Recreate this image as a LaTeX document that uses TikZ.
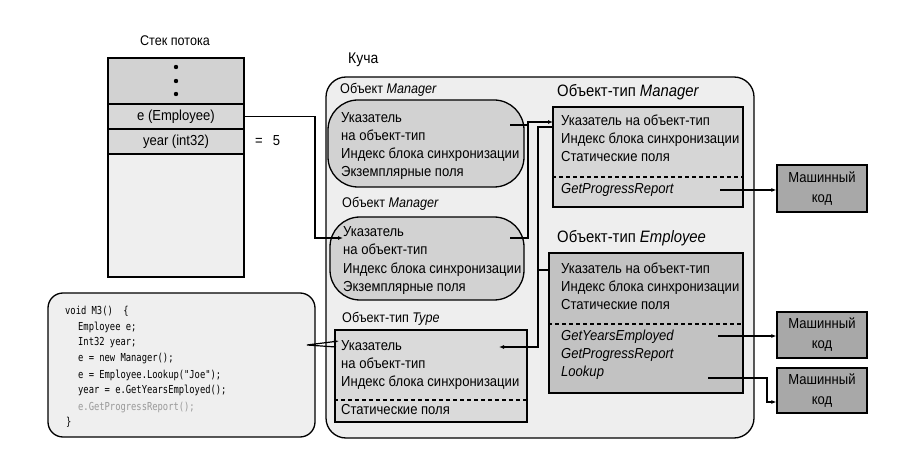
\documentclass[tikz,border=0pt]{standalone}
\usepackage{fontspec}
\setmainfont{Liberation Sans}[FakeStretch=0.9]
\newfontfamily\codefont{DejaVu Sans Mono}[FakeStretch=0.8]
\usetikzlibrary{arrows.meta}
\definecolor{heapc}{HTML}{EEEEEE}
\definecolor{stk1}{HTML}{D2D2D2}
\definecolor{stk2}{HTML}{D8D8D8}
\definecolor{stk3}{HTML}{EFEFEF}
\definecolor{objc}{HTML}{D2D2D2}
\definecolor{mtc}{HTML}{D6D6D6}
\definecolor{etc}{HTML}{C2C2C2}
\definecolor{tyc}{HTML}{DADADA}
\definecolor{mcc}{HTML}{A8A8A8}
\definecolor{codec}{HTML}{EFEFEF}
\definecolor{dimc}{HTML}{999999}
\begin{document}
\begin{tikzpicture}[x=1pt,y=-1pt,
  bx/.style={draw, line width=1.3pt, inner sep=0pt},
  tl/.style={anchor=west, inner sep=0pt, text height=10pt, text depth=3pt, font=\fontsize{14.5}{17}\selectfont},
  lbl/.style={anchor=west, inner sep=0pt, text height=9.5pt, text depth=3pt, font=\fontsize{14}{16}\selectfont},
  big/.style={anchor=west, inner sep=0pt, text height=11pt, text depth=3pt, font=\fontsize{16.5}{19}\selectfont},
  cl/.style={anchor=west, inner sep=0pt, text height=8pt, text depth=2pt, font=\codefont\fontsize{11}{13}\selectfont},
  con/.style={line width=1.2pt},
  arr/.style={con, -{Latex[length=5pt,width=4pt]}},
  dsh/.style={line width=1.1pt, dash pattern=on 4pt off 3pt},
  mc/.style={bx, fill=mcc, minimum width=90pt, align=center, font=\fontsize{14.5}{20}\selectfont}
]
\useasboundingbox (0,0) rectangle (906,449);

% heap
\node[bx, fill=heapc, rounded corners=20pt, minimum width=428pt, minimum height=361pt] (heap) at (540,257.5) {};
\node[big, font=\fontsize{15.5}{18}\selectfont] (heaplbl) at (348,60) {Куча};

% stack
\node[lbl, anchor=center] (stacklbl) at (175,42) {Стек потока};
\node[bx, fill=stk1, minimum width=136pt, minimum height=46pt] (stop) at (176,81) {};
\foreach \yy in {67,81,94} \fill (176,\yy) circle (2.2pt);
\node[bx, fill=stk2, minimum width=136pt, minimum height=25pt, font=\fontsize{14.5}{17}\selectfont] (rowe) at (176,116.5) {e (Employee)};
\node[bx, fill=stk2, minimum width=136pt, minimum height=25pt, font=\fontsize{14.5}{17}\selectfont] (rowy) at (176,141.5) {year (int32)};
\node[bx, fill=stk3, minimum width=136pt, minimum height=123pt] (sbody) at (176,215.5) {};
\node[tl] (eq) at (255,142) {=\hspace{10pt}5};

% Manager object 1
\node[lbl] (mo1lbl) at (340,90) {Объект \textit{Manager}};
\node[bx, fill=objc, rounded corners=30pt, minimum width=196pt, minimum height=87pt] (mo1) at (426,143.5) {};
\node[tl] (mo1a) at (341,119) {Указатель};
\node[tl] (mo1b) at (341,137) {на объект-тип};
\node[tl] (mo1c) at (341,155) {Индекс блока синхронизации};
\node[tl] (mo1d) at (341,173) {Экземплярные поля};

% Manager object 2
\node[lbl] (mo2lbl) at (342,204) {Объект \textit{Manager}};
\node[bx, fill=objc, rounded corners=30pt, minimum width=194pt, minimum height=83pt] (mo2) at (427,258.5) {};
\node[tl] (mo2a) at (343,233) {Указатель};
\node[tl] (mo2b) at (343,251) {на объект-тип};
\node[tl] (mo2c) at (343,270) {Индекс блока синхронизации};
\node[tl] (mo2d) at (343,288) {Экземплярные поля};

% Type type object
\node[lbl] (tylbl) at (342,319) {Объект-тип \textit{Type}};
\node[bx, fill=tyc, minimum width=192pt, minimum height=92pt] (ty) at (431,376) {};
\node[tl] (tya) at (341,347) {Указатель};
\node[tl] (tyb) at (341,365) {на объект-тип};
\node[tl] (tyc) at (341,383) {Индекс блока синхронизации};
\draw[dsh] (ty.west |- 0,400) -- (ty.east |- 0,400);
\node[tl] (tyd) at (341,411) {Статические поля};

% Manager type object
\node[big] (mtlbl) at (557,93) {Объект-тип \textit{Manager}};
\node[bx, fill=mtc, minimum width=190pt, minimum height=100pt] (mt) at (648,157) {};
\node[tl] (mta) at (561,122) {Указатель на объект-тип};
\node[tl] (mtb) at (561,140) {Индекс блока синхронизации};
\node[tl] (mtc) at (561,158) {Статические поля};
\draw[dsh] (mt.west |- 0,177) -- (mt.east |- 0,177);
\node[tl] (mtd) at (561,190) {\textit{GetProgressReport}};

% Employee type object
\node[big] (etlbl) at (557,239) {Объект-тип \textit{Employee}};
\node[bx, fill=etc, minimum width=194pt, minimum height=140pt] (et) at (646,323) {};
\node[tl] (eta) at (561,270) {Указатель на объект-тип};
\node[tl] (etb) at (561,288) {Индекс блока синхронизации};
\node[tl] (etcc) at (561,306) {Статические поля};
\draw[dsh] (et.west |- 0,324) -- (et.east |- 0,324);
\node[tl] (etd) at (561,337) {\textit{GetYearsEmployed}};
\node[tl] (ete) at (561,355) {\textit{GetProgressReport}};
\node[tl] (etf) at (561,373) {\textit{Lookup}};

% machine code
\node[mc, minimum height=47pt] (mc1) at (822,188.5) {Машинный\\код};
\node[mc, minimum height=46pt] (mc2) at (822,335) {Машинный\\код};
\node[mc, minimum height=45pt] (mc3) at (822,390.5) {Машинный\\код};

% code
\node[bx, fill=codec, rounded corners=15pt, minimum width=267pt, minimum height=144pt] (code) at (181.5,365) {};
\node[cl] (c1) at (65,312) {void M3()\ \ \{};
\node[cl] (c2) at (78,328) {Employee e;};
\node[cl] (c3) at (78,343) {Int32 year;};
\node[cl] (c4) at (78,359) {e = new Manager();};
\node[cl] (c5) at (78,375) {e = Employee.Lookup("Joe");};
\node[cl] (c6) at (78,391) {year = e.GetYearsEmployed();};
\node[cl, text=dimc] (c7) at (78,407) {e.GetProgressReport();};
\node[cl] (c8) at (66,422) {\}};

% connectors
\coordinate (m2in) at (343,238);
\coordinate (ebend) at (315,238);
\draw[arr] (rowe.east) -| (ebend) -- (m2in);

\coordinate (m1out) at (510,125);
\coordinate (m2out) at (510,238);
\coordinate (j1) at (528,122);
\coordinate (mtin) at (553,122);
\draw[con] (m1out) -| (j1);
\draw[arr] (m2out) -| (j1) -- (mtin);

\coordinate (mtout) at (553,127);
\coordinate (etout) at (549,270);
\coordinate (j2) at (538,347);
\coordinate (tyin) at (499,347);
\draw[con] (etout) -| (j2);
\draw[arr] (mtout) -| (j2) -- (tyin);

\coordinate (tl1) at (336,347);
\coordinate (tl0) at (307,345);
\coordinate (tl2) at (339,341);
\draw[arr] (tl1) -- (tl0) -- (tl2);

\coordinate (gp) at (720,190);
\draw[arr] (gp) -- (gp -| mc1.west);
\coordinate (gy) at (718,336);
\draw[arr] (gy) -- (gy -| mc2.west);
\coordinate (lk) at (708,378);
\coordinate (lkb) at (767,402);
\draw[arr] (lk) -| (lkb) -- (lkb -| mc3.west);
\end{tikzpicture}
\end{document}
